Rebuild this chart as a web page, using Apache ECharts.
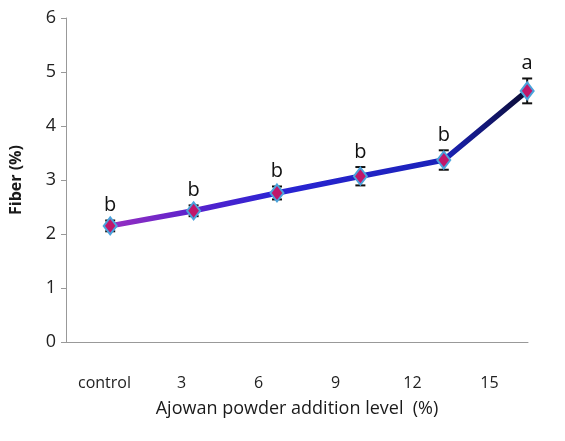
<!DOCTYPE html>
<html>
<head>
<meta charset="utf-8">
<script src="https://cdn.jsdelivr.net/npm/echarts@6/dist/echarts.min.js"></script>
<style>
  html, body { margin: 0; padding: 0; background: #fff; }
  #chart { width: 565px; height: 441px; }
</style>
</head>
<body>
<div id="chart"></div>
<script>
const categories = ['control', '3', '6', '9', '12', '15'];
const fiber = [2.15, 2.43, 2.76, 3.07, 3.37, 4.65];
const fiberErr = [0.10, 0.10, 0.12, 0.17, 0.18, 0.23];
const letters = ['b', 'b', 'b', 'b', 'b', 'a'];

const font = '"Open Sans", sans-serif';

const chart = echarts.init(document.getElementById('chart'));

const options = {
  animation: false,
  grid: { left: 65, right: 37, top: 18, bottom: 99 },
  xAxis: [
    {
      type: 'category',
      data: categories,
      boundaryGap: true,
      name: 'Ajowan powder addition level  (%)',
      nameLocation: 'middle',
      nameGap: 58,
      nameTextStyle: { fontFamily: font, fontSize: 18, color: '#1a1a1a' },
      axisLine: { onZero: false, lineStyle: { color: '#999', width: 1 } },
      axisTick: { interval: 0, length: 6, lineStyle: { color: '#999' } },
      axisLabel: { interval: 0, fontFamily: font, fontSize: 16, color: '#222', margin: 33 }
    },
    {
      // hidden axis that places the points
      type: 'value',
      min: -0.53,
      max: 5.01,
      show: false
    }
  ],
  yAxis: {
    type: 'value',
    min: 0,
    max: 6,
    interval: 1,
    name: 'Fiber (%)',
    nameLocation: 'middle',
    nameGap: 42,
    nameTextStyle: { fontFamily: font, fontSize: 16, fontWeight: 'bold', color: '#1a1a1a' },
    splitLine: { show: false },
    axisLine: { show: true, onZero: false, lineStyle: { color: '#999', width: 1 } },
    axisTick: { show: true, length: 5, lineStyle: { color: '#999' } },
    axisLabel: { fontFamily: font, fontSize: 18, color: '#222', margin: 10 }
  },
  series: [
    {
      type: 'custom',
      xAxisIndex: 1,
      z: 2,
      data: fiber.map((v, i) => [i, v, fiberErr[i]]),
      renderItem: function (params, api) {
        const i = api.value(0);
        const v = api.value(1);
        const e = api.value(2);
        const top = api.coord([i, v + e]);
        const bot = api.coord([i, v - e]);
        const w = 5;
        const st = { stroke: '#111', lineWidth: 2 };
        return {
          type: 'group',
          children: [
            { type: 'line', shape: { x1: top[0], y1: top[1], x2: bot[0], y2: bot[1] }, style: st },
            { type: 'line', shape: { x1: top[0] - w, y1: top[1], x2: top[0] + w, y2: top[1] }, style: st },
            { type: 'line', shape: { x1: bot[0] - w, y1: bot[1], x2: bot[0] + w, y2: bot[1] }, style: st },
            {
              type: 'text',
              style: {
                text: letters[params.dataIndex],
                x: top[0],
                y: top[1] - 5,
                align: 'center',
                verticalAlign: 'bottom',
                fontFamily: font,
                fontSize: 20,
                fontWeight: 500,
                fill: '#111'
              }
            }
          ]
        };
      }
    },
    {
      type: 'line',
      xAxisIndex: 1,
      z: 3,
      data: fiber.map((v, i) => [i, v]),
      symbol: 'diamond',
      symbolSize: [13, 17],
      itemStyle: { color: '#c0176a', borderColor: '#4aa3dc', borderWidth: 2 },
      lineStyle: {
        width: 5.5,
        color: new echarts.graphic.LinearGradient(0, 0, 1, 0, [
          { offset: 0, color: '#9a30c0' },
          { offset: 0.2, color: '#5a22cc' },
          { offset: 0.4, color: '#2a24d4' },
          { offset: 0.8, color: '#1a22b8' },
          { offset: 1, color: '#0b0b2e' }
        ])
      }
    }
  ]
};

chart.setOption(options);
</script>
</body>
</html>
